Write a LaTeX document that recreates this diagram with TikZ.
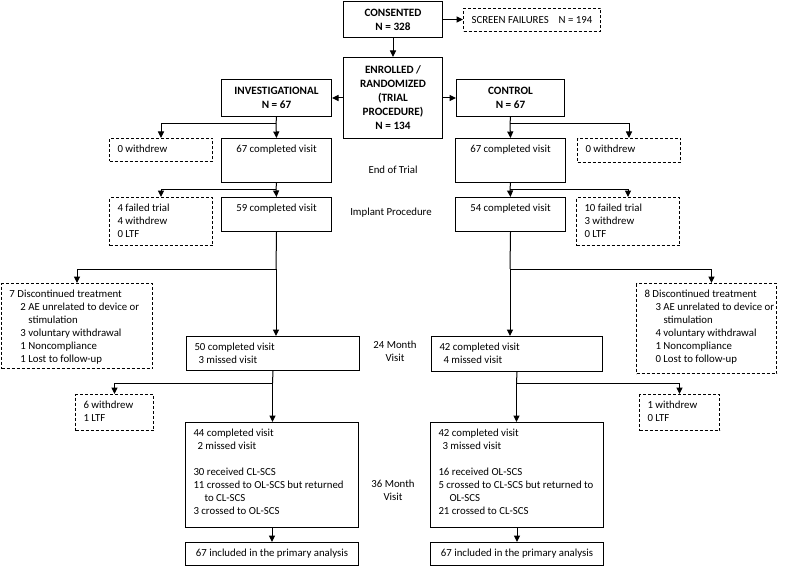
\documentclass[tikz,border=0pt]{standalone}
\usepackage{fontspec}
\setmainfont{Carlito}
\usetikzlibrary{arrows.meta,calc}

\newcommand{\bxc}[3]{\parbox[c][#2pt][t]{#1pt}{\centering\rule{0pt}{14pt}#3}}
\newcommand{\bxl}[3]{\parbox[c][#2pt][t]{#1pt}{\raggedright\leftskip=8pt\rule{0pt}{14pt}#3}}
\newcommand{\bxm}[3]{\parbox[c][#2pt][c]{#1pt}{\centering #3}}
\newcommand{\bfl}{\fontsize{11.2}{14}\selectfont\bfseries}

\begin{document}
\begin{tikzpicture}[x=1pt,y=-1pt,
  every node/.style={font=\fontsize{10.8}{13}\selectfont},
  bx/.style={draw, line width=1pt, inner sep=0pt, anchor=north west},
  dbx/.style={bx, dash pattern=on 3pt off 2pt},
  ln/.style={line width=1pt},
  arr/.style={ln, -{Triangle[length=6.5pt,width=6pt]}},
  stage/.style={inner sep=0pt, align=center}]

\useasboundingbox (0,0) rectangle (786,572);

% top
\node[bx] (consented) at (343,1) {\bxm{99}{36}{\bfl CONSENTED\\N = 328}};
\node[dbx] (screen) at (463,8) {\bxm{137}{23}{SCREEN FAILURES\hspace{10pt}N = 194}};
\node[bx] (enrolled) at (343,57) {\bxm{99}{81}{\bfl ENROLLED /\\RANDOMIZED\\(TRIAL\\PROCEDURE)\\N = 134}};
\node[bx] (invest) at (221,79) {\bxm{110}{37}{\bfl INVESTIGATIONAL\\N = 67}};
\node[bx] (control) at (456,79) {\bxm{108}{37}{\bfl CONTROL\\N = 67}};

% end of trial
\node[dbx] (w0L) at (109,138) {\bxl{103}{23}{0 withdrew}};
\node[bx] (c67L) at (221,138) {\bxc{110}{44}{67 completed visit}};
\node[bx] (c67R) at (455,138) {\bxc{110}{44}{67 completed visit}};
\node[dbx] (w0R) at (577,138) {\bxl{103}{24}{0 withdrew}};

% implant
\node[dbx] (f4) at (109,197) {\bxl{103}{48}{4 failed trial\\4 withdrew\\0 LTF}};
\node[bx] (c59) at (221,197) {\bxc{110}{34}{59 completed visit}};
\node[bx] (c54) at (455,197) {\bxc{110}{34}{54 completed visit}};
\node[dbx] (f10) at (576,197) {\bxl{103}{48}{10 failed trial\\3 withdrew\\0 LTF}};

% 24 month
\node[dbx] (disc7) at (1,283) {\bxl{151}{85}{7 Discontinued treatment\\
  \hspace*{11pt}\mbox{2 AE unrelated to device or}\\
  \hspace*{19pt}stimulation\\
  \hspace*{11pt}3 voluntary withdrawal\\
  \hspace*{11pt}1 Noncompliance\\
  \hspace*{11pt}1 Lost to follow-up}};
\node[bx] (c50) at (186,336) {\bxl{173}{34}{50 completed visit\\\hspace*{4pt}3 missed visit}};
\node[bx] (c42a) at (431,336) {\bxl{171}{35}{42 completed visit\\\hspace*{4pt}4 missed visit}};
\node[dbx] (disc8) at (636,283) {\bxl{140}{90}{8 Discontinued treatment\\
  \hspace*{11pt}\mbox{3 AE unrelated to device or}\\
  \hspace*{19pt}stimulation\\
  \hspace*{11pt}4 voluntary withdrawal\\
  \hspace*{11pt}1 Noncompliance\\
  \hspace*{11pt}0 Lost to follow-up}};

% 36 month
\node[dbx] (w6) at (75,394) {\bxl{78}{36}{6 withdrew\\1 LTF}};
\node[bx] (c44) at (185,422) {\bxl{173}{105}{44 completed visit\\
  \hspace*{4pt}2 missed visit\\[13pt]
  30 received CL-SCS\\
  \mbox{11 crossed to OL-SCS but returned}\\
  \hspace*{11pt}to CL-SCS\\
  3 crossed to OL-SCS}};
\node[bx] (c42b) at (430,422) {\bxl{173}{105}{42 completed visit\\
  \hspace*{4pt}3 missed visit\\[13pt]
  16 received OL-SCS\\
  \mbox{5 crossed to CL-SCS but returned to}\\
  \hspace*{11pt}OL-SCS\\
  21 crossed to CL-SCS}};
\node[dbx] (w1) at (639,394) {\bxl{80}{36}{1 withdrew\\0 LTF}};

% analysis
\node[bx] (inclL) at (185,542) {\bxm{173}{23}{67 included in the primary analysis}};
\node[bx] (inclR) at (430,542) {\bxm{173}{23}{67 included in the primary analysis}};

% stage labels
\node[stage] (st1) at (393,170) {End of Trial};
\node[stage] (st2) at (391,213) {Implant Procedure};
\node[stage] (st3) at (395,351) {24 Month\\Visit};
\node[stage] (st4) at (393,490) {36 Month\\Visit};

% connectors top
\draw[arr] (consented.south) -- (enrolled.north);
\draw[arr] (consented.east) -- (consented.east -| screen.west);
\draw[arr] (enrolled.west) -- (enrolled.west -| invest.east);
\draw[arr] (enrolled.east) -- (enrolled.east -| control.west);

% branch coordinates
\coordinate (b1L) at (276,124);
\coordinate (b1R) at (510,124);
\coordinate (b2L) at (276,189);
\coordinate (b2R) at (510,189);
\coordinate (b3L) at (276,269);
\coordinate (b3R) at (510,269);
\coordinate (b4L) at (272.5,383);
\coordinate (b4R) at (516.5,383);

% end of trial
\draw[ln] (invest.south) -- (b1L);
\draw[arr] (b1L) -- (c67L.north);
\draw[arr] (b1L) -| (w0L.north);
\draw[ln] (control.south) -- (b1R);
\draw[arr] (b1R) -- (c67R.north);
\draw[arr] (b1R) -| (w0R.north);

% implant
\draw[ln] (c67L.south) -- (b2L);
\draw[arr] (b2L) -- (c59.north);
\draw[arr] (b2L) -| (f4.north);
\draw[ln] (c67R.south) -- (b2R);
\draw[arr] (b2R) -- (c54.north);
\draw[arr] (b2R) -| (f10.north);

% 24 month
\draw[ln] (c59.south) -- (b3L);
\draw[arr] (b3L) -- (b3L |- c50.north);
\draw[arr] (b3L) -| (disc7.north);
\draw[ln] (c54.south) -- (b3R);
\draw[arr] (b3R) -- (b3R |- c42a.north);
\draw[arr] (b3R) -| ($(disc8.north)+(5,0)$);

% 36 month
\draw[ln] (c50.south) -- (b4L);
\draw[arr] (b4L) -- (b4L |- c44.north);
\draw[arr] (b4L) -| (w6.north);
\draw[ln] (c42a.south) -- (b4R);
\draw[arr] (b4R) -- (b4R |- c42b.north);
\draw[arr] (b4R) -| (w1.north);

% analysis
\draw[arr] (c44.south) -- (c44.south |- inclL.north);
\draw[arr] (c42b.south) -- (c42b.south |- inclR.north);
\end{tikzpicture}
\end{document}
